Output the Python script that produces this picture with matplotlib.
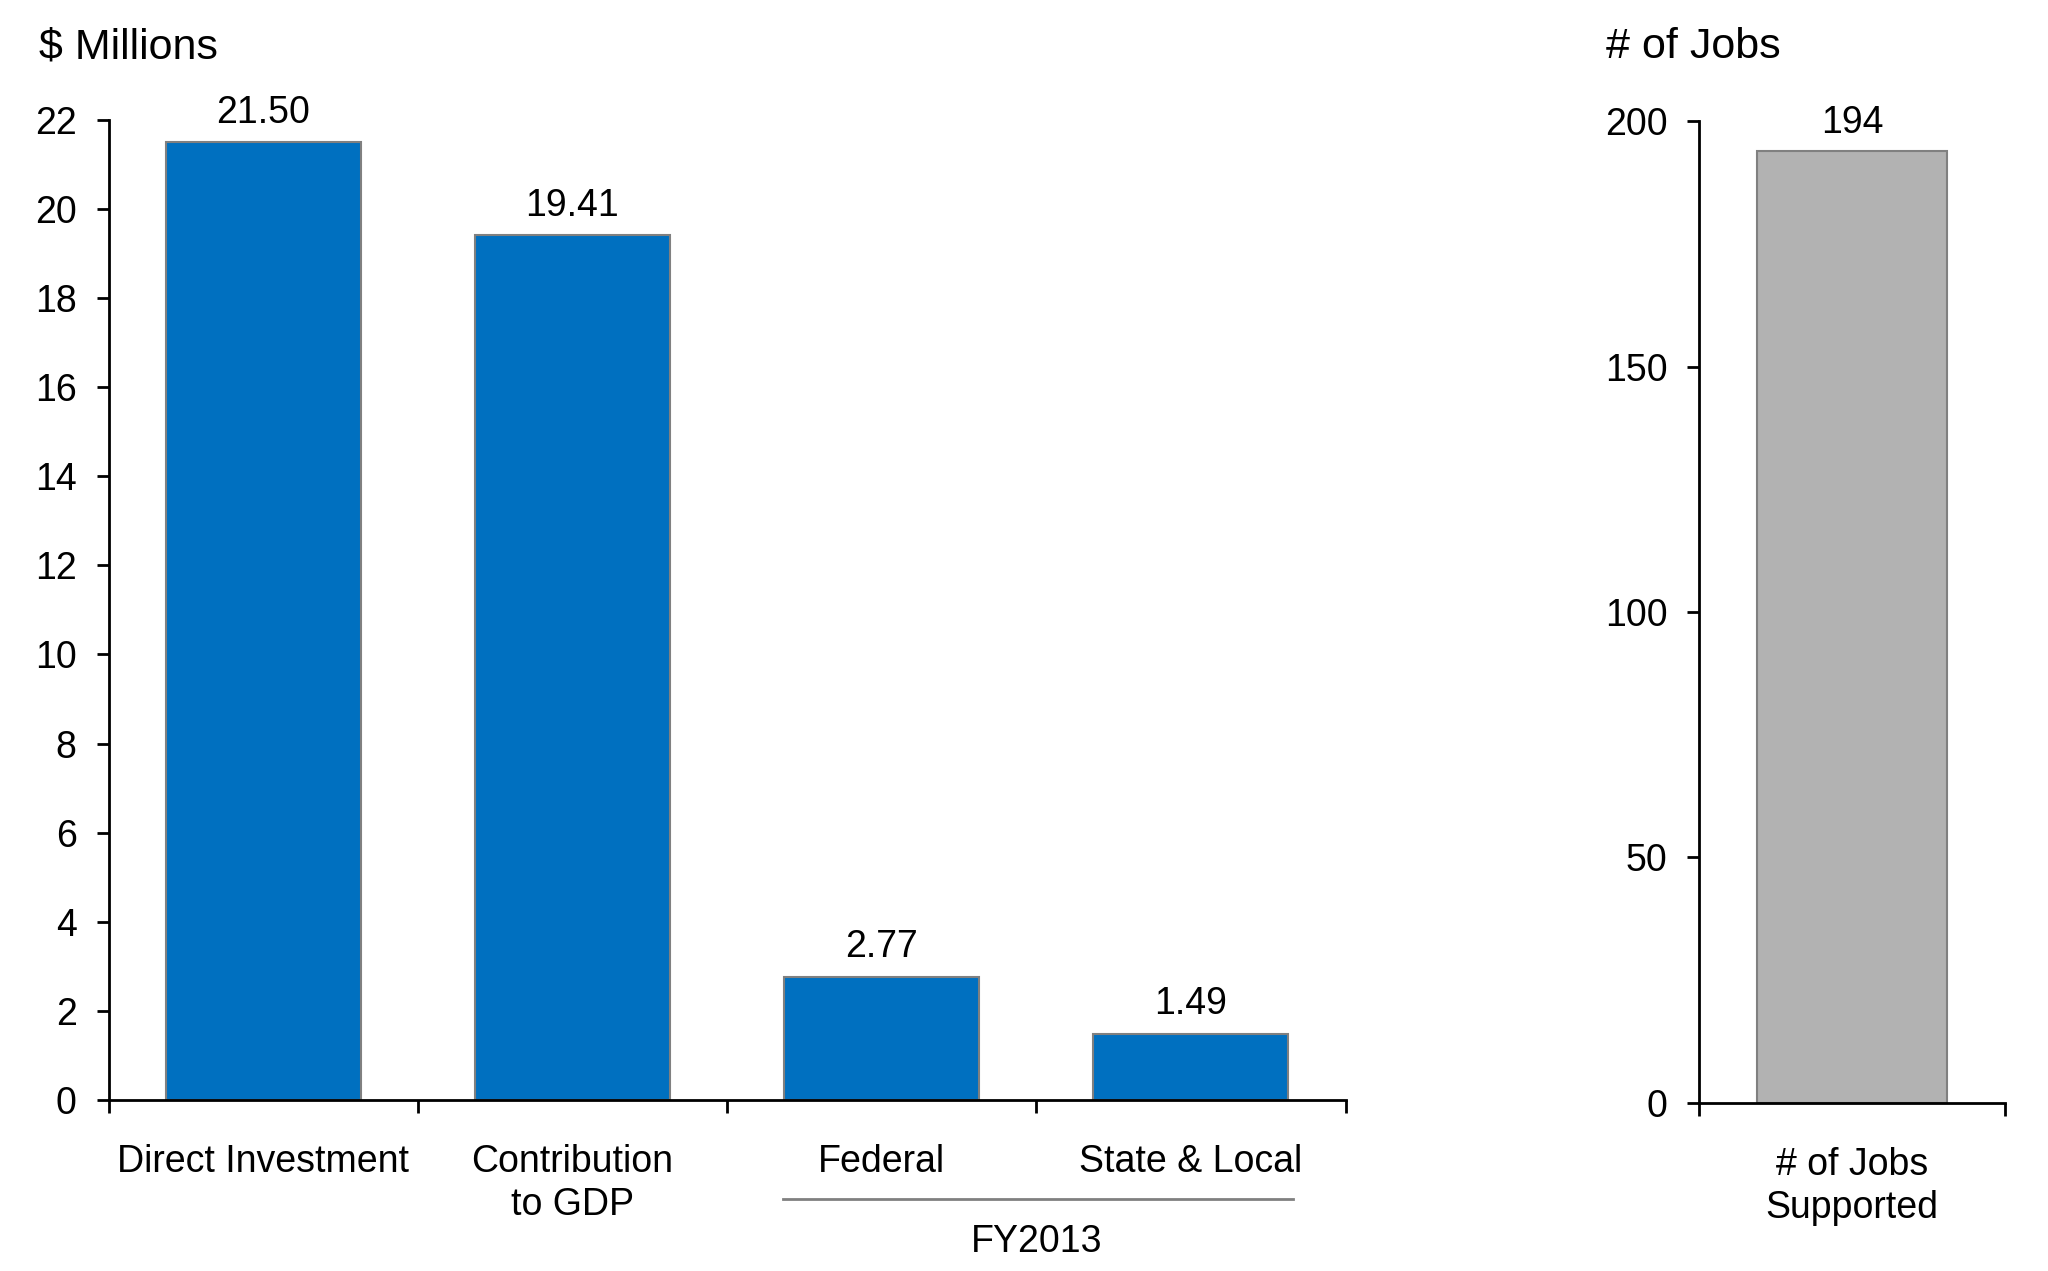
import numpy as np
import matplotlib.pyplot as plt
from matplotlib.transforms import blended_transform_factory

plt.rcParams['font.family'] = ['Liberation Sans', 'DejaVu Sans']

# data
categories = ['Direct Investment', 'Contribution\nto GDP', 'Federal', 'State & Local']
values = [21.50, 19.41, 2.77, 1.49]
jobs_label = ['# of Jobs\nSupported']
jobs = [194]

blue = '#0070C0'
grey = '#B2B2B2'
edge = '#808080'
fs = 27

fig = plt.figure(figsize=(20.48, 12.71), dpi=100)
ax = fig.add_axes([0.053, 0.1346, 0.604, 0.771])
ax2 = fig.add_axes([0.8297, 0.1325, 0.1493, 0.772])


def style(a):
    for s in ['top', 'right']:
        a.spines[s].set_visible(False)
    for s in ['left', 'bottom']:
        a.spines[s].set_linewidth(2)
    a.tick_params(axis='both', which='major', width=2, length=9, labelsize=fs)
    a.tick_params(axis='y', which='major', pad=14)
    a.tick_params(axis='x', which='minor', length=0, labelsize=fs, pad=32)


# left chart
x = np.arange(len(categories))
bars = ax.bar(x, values, width=0.63, color=blue, edgecolor=edge, linewidth=1.5)
ax.set_xlim(-0.5, len(categories) - 0.5)
ax.set_ylim(0, 22)
ax.set_yticks(np.arange(0, 23, 2))
ax.set_xticks(np.arange(len(categories) + 1) - 0.5)
ax.set_xticklabels([])
ax.set_xticks(x, minor=True)
ax.set_xticklabels(categories, minor=True, linespacing=1.25)
style(ax)
for b, v in zip(bars, values):
    ax.annotate(f'{v:.2f}', (b.get_x() + b.get_width() / 2, v), xytext=(0, 8),
                textcoords='offset points', ha='center', va='bottom', fontsize=fs)

# FY2013 bracket line under the tax categories
tr = blended_transform_factory(ax.transData, ax.transAxes)
ax.plot([1.68, 3.33], [-0.101, -0.101], color='#808080', lw=2, transform=tr, clip_on=False)
ax.text(2.5, -0.145, 'FY2013', transform=tr, ha='center', va='center', fontsize=fs)

fig.text(0.019, 0.963, '$ Millions', fontsize=31, ha='left', va='center')

# right chart
b2 = ax2.bar([0], jobs, width=0.62, color=grey, edgecolor=edge, linewidth=1.5)
ax2.set_xlim(-0.5, 0.5)
ax2.set_ylim(0, 200)
ax2.set_yticks(np.arange(0, 201, 50))
ax2.set_xticks([-0.5, 0.5])
ax2.set_xticklabels([])
ax2.set_xticks([0], minor=True)
ax2.set_xticklabels(jobs_label, minor=True, linespacing=1.25)
style(ax2)
for b, v in zip(b2, jobs):
    ax2.annotate(f'{v}', (b.get_x() + b.get_width() / 2, v), xytext=(0, 7),
                 textcoords='offset points', ha='center', va='bottom', fontsize=fs)

fig.text(0.784, 0.963, '# of Jobs', fontsize=31, ha='left', va='center')

fig.savefig('out.png', dpi=100)
